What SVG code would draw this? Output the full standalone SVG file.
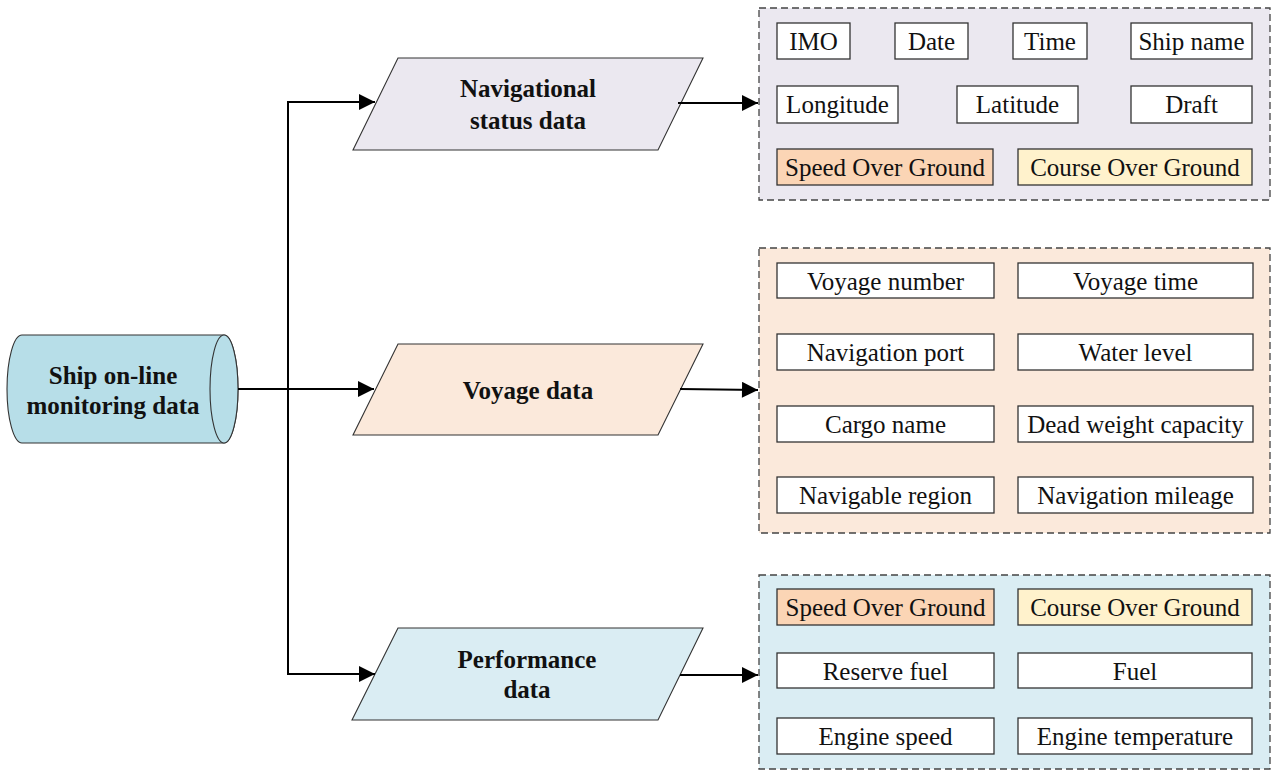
<svg xmlns="http://www.w3.org/2000/svg" width="1274" height="772" viewBox="0 0 1274 772">
  <style>
    .lbl { font-family: "Liberation Serif", "Times New Roman", serif; font-size: 25px; fill: #111; text-anchor: middle; }
    .bold { font-family: "Liberation Serif", "Times New Roman", serif; font-size: 25px; font-weight: bold; fill: #111; text-anchor: middle; }
    .item { stroke: #333; stroke-width: 1.3; fill: #fff; }
    .sog { fill: #fbd5b5; }
    .cog { fill: #fff2cc; }
    .group { stroke: #444; stroke-width: 1.3; stroke-dasharray: 7 4; }
    .shape { stroke: #333; stroke-width: 1.1; }
    .wire { stroke: #000; stroke-width: 2; fill: none; }
  </style>
  <defs>
    <marker id="arrow" viewBox="0 0 10 10" refX="10" refY="5" markerWidth="9" markerHeight="8" markerUnits="strokeWidth" orient="auto">
      <path d="M0,0 L10,5 L0,10 Z" fill="#000"/>
    </marker>
  </defs>

  <rect width="1274" height="772" fill="#fff"/>

  <!-- source: cylinder lying on its side -->
  <g id="source">
    <path class="shape" d="M22,335 L224,335 A14,54 0 0 1 224,443 L22,443 A15,54 0 0 1 22,335 Z" fill="#b7dee8"/>
    <ellipse class="shape" cx="224" cy="389" rx="14" ry="54" fill="#b7dee8"/>
    <text class="bold" x="113" y="384">Ship on-line</text>
    <text class="bold" x="113" y="414">monitoring data</text>
  </g>

  <!-- category nodes -->
  <g id="nav-status">
    <polygon class="shape" points="398,58 703,58 658,150 353,150" fill="#ebe8f0"/>
    <text class="bold" x="528" y="97">Navigational</text>
    <text class="bold" x="528" y="129">status data</text>
  </g>
  <g id="voyage">
    <polygon class="shape" points="398,344 703,344 658,435 353,435" fill="#fbe9db"/>
    <text class="bold" x="528" y="399">Voyage data</text>
  </g>
  <g id="performance">
    <polygon class="shape" points="398,628 703,628 658,720 352,720" fill="#daedf3"/>
    <text class="bold" x="527" y="668">Performance</text>
    <text class="bold" x="527" y="698">data</text>
  </g>

  <!-- navigational status fields -->
  <g id="nav-fields">
    <rect class="group" x="759" y="8" width="511" height="192" fill="#ebe8f0"/>
    <rect class="item" x="777" y="23" width="73" height="36"/>
    <text class="lbl" x="813.5" y="50">IMO</text>
    <rect class="item" x="895" y="23" width="73" height="36"/>
    <text class="lbl" x="931.5" y="50">Date</text>
    <rect class="item" x="1013" y="23" width="74" height="36"/>
    <text class="lbl" x="1050" y="50">Time</text>
    <rect class="item" x="1131" y="23" width="121" height="36"/>
    <text class="lbl" x="1191.5" y="50">Ship name</text>
    <rect class="item" x="777" y="86" width="121" height="37"/>
    <text class="lbl" x="837.5" y="113">Longitude</text>
    <rect class="item" x="957" y="86" width="121" height="37"/>
    <text class="lbl" x="1017.5" y="113">Latitude</text>
    <rect class="item" x="1131" y="86" width="121" height="37"/>
    <text class="lbl" x="1191.5" y="113">Draft</text>
    <rect class="item sog" x="777" y="149" width="216" height="36"/>
    <text class="lbl" x="885" y="176">Speed Over Ground</text>
    <rect class="item cog" x="1018" y="149" width="234" height="36"/>
    <text class="lbl" x="1135" y="176">Course Over Ground</text>
  </g>

  <!-- voyage fields -->
  <g id="voyage-fields">
    <rect class="group" x="759" y="248" width="511" height="285" fill="#fbe9db"/>
    <rect class="item" x="777" y="263" width="217" height="35"/>
    <text class="lbl" x="885.5" y="290">Voyage number</text>
    <rect class="item" x="1018" y="263" width="235" height="35"/>
    <text class="lbl" x="1135.5" y="290">Voyage time</text>
    <rect class="item" x="777" y="334" width="217" height="36"/>
    <text class="lbl" x="885.5" y="361">Navigation port</text>
    <rect class="item" x="1018" y="334" width="235" height="36"/>
    <text class="lbl" x="1135.5" y="361">Water level</text>
    <rect class="item" x="777" y="406" width="217" height="36"/>
    <text class="lbl" x="885.5" y="433">Cargo name</text>
    <rect class="item" x="1018" y="406" width="235" height="36"/>
    <text class="lbl" x="1135.5" y="433">Dead weight capacity</text>
    <rect class="item" x="777" y="477" width="217" height="36"/>
    <text class="lbl" x="885.5" y="504">Navigable region</text>
    <rect class="item" x="1018" y="477" width="235" height="36"/>
    <text class="lbl" x="1135.5" y="504">Navigation mileage</text>
  </g>

  <!-- performance fields -->
  <g id="performance-fields">
    <rect class="group" x="759" y="575" width="511" height="194" fill="#daedf3"/>
    <rect class="item sog" x="777" y="589" width="217" height="36"/>
    <text class="lbl" x="885.5" y="616">Speed Over Ground</text>
    <rect class="item cog" x="1018" y="589" width="234" height="36"/>
    <text class="lbl" x="1135" y="616">Course Over Ground</text>
    <rect class="item" x="777" y="653" width="217" height="35"/>
    <text class="lbl" x="885.5" y="680">Reserve fuel</text>
    <rect class="item" x="1018" y="653" width="234" height="35"/>
    <text class="lbl" x="1135" y="680">Fuel</text>
    <rect class="item" x="777" y="718" width="217" height="36"/>
    <text class="lbl" x="885.5" y="745">Engine speed</text>
    <rect class="item" x="1018" y="718" width="234" height="36"/>
    <text class="lbl" x="1135" y="745">Engine temperature</text>
  </g>

  <!-- connectors -->
  <g id="connectors">
    <line class="wire" x1="238" y1="389" x2="288" y2="389"/>
    <line class="wire" x1="288" y1="102" x2="288" y2="674"/>
    <path class="wire" d="M287,102 L375,102" marker-end="url(#arrow)"/>
    <path class="wire" d="M288,389 L374,389" marker-end="url(#arrow)"/>
    <path class="wire" d="M287,674 L375,674" marker-end="url(#arrow)"/>
    <path class="wire" d="M678,103 L758,103" marker-end="url(#arrow)"/>
    <path class="wire" d="M680,389 L758,390" marker-end="url(#arrow)"/>
    <path class="wire" d="M680,675 L758,675" marker-end="url(#arrow)"/>
  </g>
</svg>
